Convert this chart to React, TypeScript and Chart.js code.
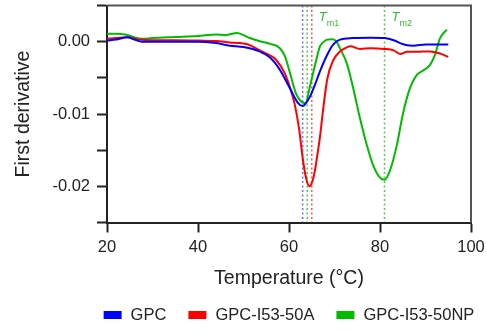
import React, { useEffect, useRef } from "react";
import { Chart, registerables } from "chart.js";

Chart.register(...registerables);

const FONT = "'Liberation Sans', Arial, Helvetica, sans-serif";
const TEXT = "#222222";

// x-axis ticks (°C) and y-axis range
const xTicks = [20, 40, 60, 80, 100];
const yMin = -0.025;
const yMax = 0.005;
const yStep = 0.005;

// GPC (blue)
const gpcTemp = [20, 22, 24.5, 26, 27.7, 30, 35, 40, 44, 47, 50, 53.5, 56, 58, 60, 62, 63, 64.6, 65.8, 66.8, 68.4, 69.7, 71.2, 74, 78, 81, 83, 84.4, 86, 87.3, 90, 92, 95];
const gpcDeriv = [0.00015, 0.0003, 0.0006, 0.0003, 0, 0, 0, 0, -0.0002, -0.00055, -0.00075, -0.00135, -0.0023, -0.0039, -0.0062, -0.0085, -0.0089, -0.0076, -0.0058, -0.0041, -0.0018, -0.0004, 0.00028, 0.0005, 0.00055, 0.0005, 0.0002, -0.0002, -0.0005, -0.00055, -0.0004, -0.0004, -0.0004];

// GPC-I53-50A (red)
const aTemp = [20, 22, 24.5, 27, 30, 35, 40, 44, 47, 49.2, 51, 53.6, 55.5, 57, 59, 60.2, 61.2, 62.2, 63.1, 63.8, 64.5, 65.2, 65.7, 66.2, 66.8, 67.5, 68.4, 69.7, 71.2, 72.7, 73.5, 75.6, 78, 81, 83, 84.4, 86, 88, 91, 93, 95];
const aDeriv = [0.0004, 0.0005, 0.0006, 0.0003, 0.0002, 0.0002, 0.00015, 0.0001, -0.0001, -0.0002, -0.0004, -0.0012, -0.0018, -0.0024, -0.0043, -0.0063, -0.0085, -0.012, -0.0165, -0.019, -0.02, -0.0192, -0.0178, -0.0158, -0.0132, -0.0094, -0.0052, -0.0026, -0.00135, -0.0008, -0.00065, -0.001, -0.0009, -0.001, -0.0012, -0.0017, -0.0014, -0.0014, -0.00135, -0.0016, -0.0021];

// GPC-I53-50NP (green)
const npTemp = [20, 22, 24, 26, 27.7, 30, 35, 40, 44, 46, 48.6, 50, 51.4, 53.6, 55.8, 58, 59.1, 60.2, 61.5, 62.7, 63.6, 64.6, 66, 66.8, 67.5, 68.4, 69.5, 70.3, 71.2, 72.7, 74.1, 75.6, 77.1, 78.5, 80, 81, 82.2, 83.7, 85, 86.6, 88.1, 89.2, 91, 92.1, 93.2, 94.7];
const npDeriv = [0.0011, 0.0011, 0.001, 0.0006, 0.0004, 0.0005, 0.00065, 0.0008, 0.001, 0.0009, 0.0012, 0.0009, 0.0005, 0.00005, -0.0003, -0.0009, -0.002, -0.0043, -0.0071, -0.0083, -0.0085, -0.0062, -0.0025, -0.00065, -0.0001, 0.00028, 0.00035, 0.0001, -0.0009, -0.003, -0.0064, -0.0106, -0.0143, -0.0171, -0.0188, -0.0191, -0.0178, -0.0143, -0.0101, -0.0064, -0.0046, -0.0041, -0.0032, -0.0018, 0.0005, 0.00167];

// melting temperature markers
const tmTemps = [63, 64, 65, 81];
const tmColors = ["rgba(90,90,255,0.85)", "rgba(60,200,60,0.85)", "rgba(255,70,70,0.9)", "rgba(60,200,60,0.85)"];
const tmLabels = ["m1", "m2"];
const tmLabelAt = [65, 81];

const seriesNames = ["GPC", "GPC-I53-50A", "GPC-I53-50NP"];
const seriesColors = ["#0000ff", "#ff0000", "#00bb00"];

const toPts = (t: number[], v: number[]) => t.map((x, i) => ({ x, y: v[i] }));

const decor = {
  id: "decor",
  afterDatasetsDraw(chart: any) {
    const { ctx, chartArea: a, scales } = chart;
    const x = scales.x;
    ctx.save();
    // frame (top and right)
    ctx.strokeStyle = "#555555";
    ctx.lineWidth = 2;
    ctx.beginPath();
    ctx.moveTo(a.left, a.top);
    ctx.lineTo(a.right, a.top);
    ctx.lineTo(a.right, a.bottom);
    ctx.stroke();
    // Tm labels
    ctx.fillStyle = "#33bb33";
    ctx.textBaseline = "alphabetic";
    ctx.textAlign = "left";
    tmLabelAt.forEach((t, i) => {
      const px = x.getPixelForValue(t) + 7;
      ctx.font = `italic 13px ${FONT}`;
      ctx.fillText("T", px, a.top + 15);
      const w = ctx.measureText("T").width;
      ctx.font = `9px ${FONT}`;
      ctx.fillText(tmLabels[i], px + w, a.top + 20.5);
    });
    ctx.restore();
  },
  afterDraw(chart: any) {
    const { ctx, chartArea: a } = chart;
    ctx.save();
    ctx.font = `16.5px ${FONT}`;
    const boxW = 18, boxH = 8, gapText = 9, gapItem = 22;
    const widths = seriesNames.map((n) => ctx.measureText(n).width);
    const total = widths.reduce((s, w) => s + boxW + gapText + w, 0) + gapItem * (seriesNames.length - 1);
    let cx = (a.left + a.right) / 2 - total / 2;
    const cy = 315;
    ctx.textBaseline = "middle";
    ctx.textAlign = "left";
    seriesNames.forEach((n, i) => {
      ctx.fillStyle = seriesColors[i];
      ctx.fillRect(cx, cy - boxH / 2, boxW, boxH);
      ctx.fillStyle = TEXT;
      ctx.fillText(n, cx + boxW + gapText, cy + 0.5);
      cx += boxW + gapText + widths[i] + gapItem;
    });
    ctx.restore();
  },
};

export default function App() {
  const ref = useRef<HTMLCanvasElement>(null);
  useEffect(() => {
    if (!ref.current) return;
    const curves = [
      { label: seriesNames[0], data: toPts(gpcTemp, gpcDeriv), borderColor: seriesColors[0], order: 1 },
      { label: seriesNames[1], data: toPts(aTemp, aDeriv), borderColor: seriesColors[1], order: 2 },
      { label: seriesNames[2], data: toPts(npTemp, npDeriv), borderColor: seriesColors[2], order: 3 },
    ].map((d) => ({
      ...d,
      borderWidth: 2,
      pointRadius: 0,
      fill: false,
      cubicInterpolationMode: "monotone" as const,
    }));
    const markers = tmTemps.map((t, i) => ({
      label: "Tm" + i,
      data: [{ x: t, y: yMax }, { x: t, y: yMin }],
      borderColor: tmColors[i],
      borderWidth: 1.6,
      borderDash: [2, 2.5],
      pointRadius: 0,
      fill: false,
      order: 10,
    }));
    const chart = new Chart(ref.current, {
      type: "line",
      data: { datasets: [...curves, ...markers] as any },
      options: {
        animation: false,
        responsive: false,
        layout: { padding: { left: 0, top: 5.5, right: 16, bottom: 0 } },
        plugins: { legend: { display: false }, tooltip: { enabled: false } },
        scales: {
          x: {
            type: "linear",
            min: xTicks[0],
            max: xTicks[xTicks.length - 1],
            afterBuildTicks: (s: any) => { s.ticks = xTicks.map((v) => ({ value: v })); },
            afterFit: (s: any) => { s.height = 110.5; s.paddingLeft = 0; s.paddingRight = 0; },
            grid: { drawOnChartArea: false, drawTicks: true, tickLength: 10, tickWidth: 2, tickColor: TEXT },
            border: { display: true, color: TEXT, width: 2 },
            ticks: { color: TEXT, padding: 5, font: { family: FONT, size: 16.5 }, maxRotation: 0 },
            title: {
              display: true,
              text: "Temperature (°C)",
              color: TEXT,
              font: { family: FONT, size: 19.5 },
              padding: { top: 0, bottom: 43 },
            },
          },
          y: {
            type: "linear",
            min: yMin,
            max: yMax,
            afterFit: (s: any) => { s.width = 107; s.paddingTop = 0; s.paddingBottom = 0; },
            grid: { drawOnChartArea: false, drawTicks: true, tickLength: 10, tickWidth: 2, tickColor: TEXT },
            border: { display: true, color: TEXT, width: 2 },
            ticks: {
              stepSize: yStep,
              color: TEXT,
              padding: 7,
              font: { family: FONT, size: 16.5 },
              callback: (v: any) => {
                const n = Number(v) * 100;
                return Math.abs(n - Math.round(n)) < 1e-6 ? (Math.round(n) / 100).toFixed(2) : "";
              },
            },
            title: {
              display: true,
              text: "First derivative",
              color: TEXT,
              font: { family: FONT, size: 19.5 },
              padding: { top: 12, bottom: 0 },
            },
          },
        },
      },
      plugins: [decor],
    });
    return () => chart.destroy();
  }, []);
  return (
    <div style={{ position: "absolute", left: 0, top: 0, width: 487, height: 333, background: "#fff" }}>
      <canvas ref={ref} width={487} height={333} style={{ width: 487, height: 333, display: "block" }} />
    </div>
  );
}
